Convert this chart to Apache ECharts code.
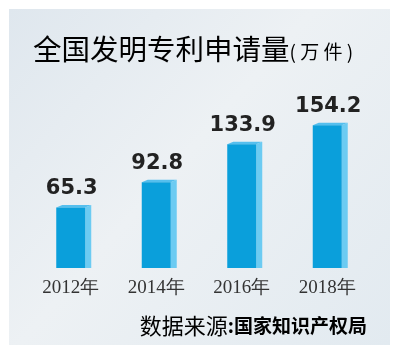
<!DOCTYPE html>
<html><head><meta charset="utf-8">
<script src="https://cdn.jsdelivr.net/npm/echarts@6/dist/echarts.min.js"></script>
<style>html,body{margin:0;padding:0;background:#fff;}#c{width:400px;height:355px;}</style>
</head><body><div id="c"></div>
<script>
const categories = ['2012年', '2014年', '2016年', '2018年'];
const values = [65.3, 92.8, 133.9, 154.2];
const titleMain = '全国发明专利申请量';
const titleUnit = '( 万 件 )';
const sourceLabel = '数据来源';
const sourceName = ':国家知识产权局';

const chart = echarts.init(document.getElementById('c'), null, {renderer: 'canvas'});
const option = {
  animation: false,
  backgroundColor: '#ffffff',
  graphic: [
    {type: 'rect', left: 9, top: 9, shape: {width: 381, height: 336}, z: -10,
     style: {fill: new echarts.graphic.LinearGradient(0, 0, 1, 1, [
       {offset: 0, color: '#dfe7ee'}, {offset: 0.45, color: '#edf1f4'}, {offset: 1, color: '#e2eaf0'}])}},
    {type: 'text', left: 33, top: 35, z: 10,
     style: {rich: {m: {fontSize: 28.5, fontFamily: 'Noto Sans CJK SC', color: '#2e2e2e'},
                    u: {fontSize: 19, fontFamily: 'Noto Sans CJK SC', color: '#2e2e2e', padding: [5, 0, 0, 0]}},
             text: '{m|' + titleMain + '}{u|' + titleUnit + '}'}},
    {type: 'text', right: 33, top: 315, z: 10,
     style: {rich: {a: {fontSize: 22, fontFamily: 'Noto Sans CJK SC', color: '#6a6a6a'},
                    b: {fontSize: 19, fontFamily: 'Noto Sans CJK SC', fontWeight: 'bold', color: '#262626'}},
             text: '{a|' + sourceLabel + '}{b|' + sourceName + '}'}}
  ],
  grid: {left: 28, right: 30, top: 83, bottom: 87},
  xAxis: {type: 'category', data: categories,
    axisLine: {show: false}, axisTick: {show: false},
    axisLabel: {margin: 11, fontSize: 19, fontFamily: 'Liberation Serif', color: '#333'}},
  yAxis: {type: 'value', min: 0, max: 200, show: false, splitLine: {show: false}},
  series: [{
    type: 'custom',
    data: values.map((v, i) => [i, v]),
    renderItem: function (params, api) {
      const i = api.value(0), v = api.value(1);
      const top = api.coord([i, v]);
      const base = api.coord([i, 0]);
      const w = 29, d = 6, h = 2.5;
      const l = top[0] - w / 2, r = top[0] + w / 2;
      return {type: 'group', children: [
        {type: 'polygon', shape: {points: [[r, top[1]], [r + d, top[1] - h], [r + d, base[1]], [r, base[1]]]},
         style: {fill: '#6ccbf2'}},
        {type: 'polygon', shape: {points: [[l, top[1]], [l + d, top[1] - h], [r + d, top[1] - h], [r, top[1]]]},
         style: {fill: '#55bfee'}},
        {type: 'rect', shape: {x: l, y: top[1], width: w, height: base[1] - top[1]},
         style: {fill: '#0a9fdb'}},
        {type: 'text', x: top[0] + 1, y: top[1] - 19,
         style: {text: String(v), fontSize: 21, fontWeight: 'bold', fontFamily: 'DejaVu Sans',
                 fill: '#222', align: 'center', verticalAlign: 'middle'}}
      ]};
    }
  }]
};
chart.setOption(option);
</script></body></html>
